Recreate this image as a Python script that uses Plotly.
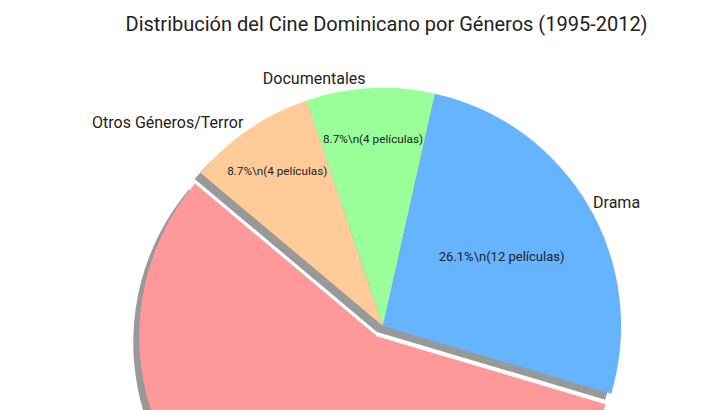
import plotly.graph_objects as go

labels = ["Otros Géneros/Terror", "Documentales", "Drama", "Comedia"]
values = [4, 4, 12, 26]
colors = ["#ffcc99", "#99ff99", "#66b3ff", "#ff9999"]
pulls = [0, 0, 0, 0.05]

W, H = 728, 628
t, b = 68, 54
ph = H - t - b
sh = 6
dx0, dx1 = 125 / W, 625 / W
dy = [sh / ph, 1]
fig = go.Figure()
# shadow
fig.add_trace(go.Pie(labels=labels, values=values, sort=False, direction="clockwise",
                     rotation=-50, pull=pulls, textinfo="none", hoverinfo="skip",
                     marker=dict(colors=["rgba(0,0,0,0.4)"] * 4),
                     domain=dict(x=[dx0 - sh / W, dx1 - sh / W], y=[0, 1 - sh / ph]),
                     showlegend=False))
# inside percent text
fig.add_trace(go.Pie(labels=labels, values=values, sort=False, direction="clockwise",
                     rotation=-50, pull=pulls, marker=dict(colors=colors),
                     texttemplate="%{percent:.1%}\\n(%{value} películas)",
                     textposition="inside", insidetextorientation="horizontal",
                     textfont=dict(size=13, color="#222"),
                     domain=dict(x=[dx0, dx1], y=dy), showlegend=False))
# outside name labels
fig.add_trace(go.Pie(labels=labels, values=values, sort=False, direction="clockwise",
                     rotation=-50, pull=pulls, textinfo="label", textposition="outside",
                     marker=dict(colors=["rgba(0,0,0,0)"] * 4), hoverinfo="skip",
                     textfont=dict(size=16, color="#222"),
                     domain=dict(x=[dx0, dx1], y=dy), showlegend=False))

fig.update_layout(width=W, height=H, margin=dict(l=0, r=0, t=t, b=b),
                  paper_bgcolor="white", font=dict(family="Roboto"),
                  title=dict(text="Distribución del Cine Dominicano por Géneros (1995-2012)",
                             x=0.52, xanchor="center", y=0.985, yanchor="top",
                             font=dict(size=20, color="#222")))
fig.write_html("out.html")
